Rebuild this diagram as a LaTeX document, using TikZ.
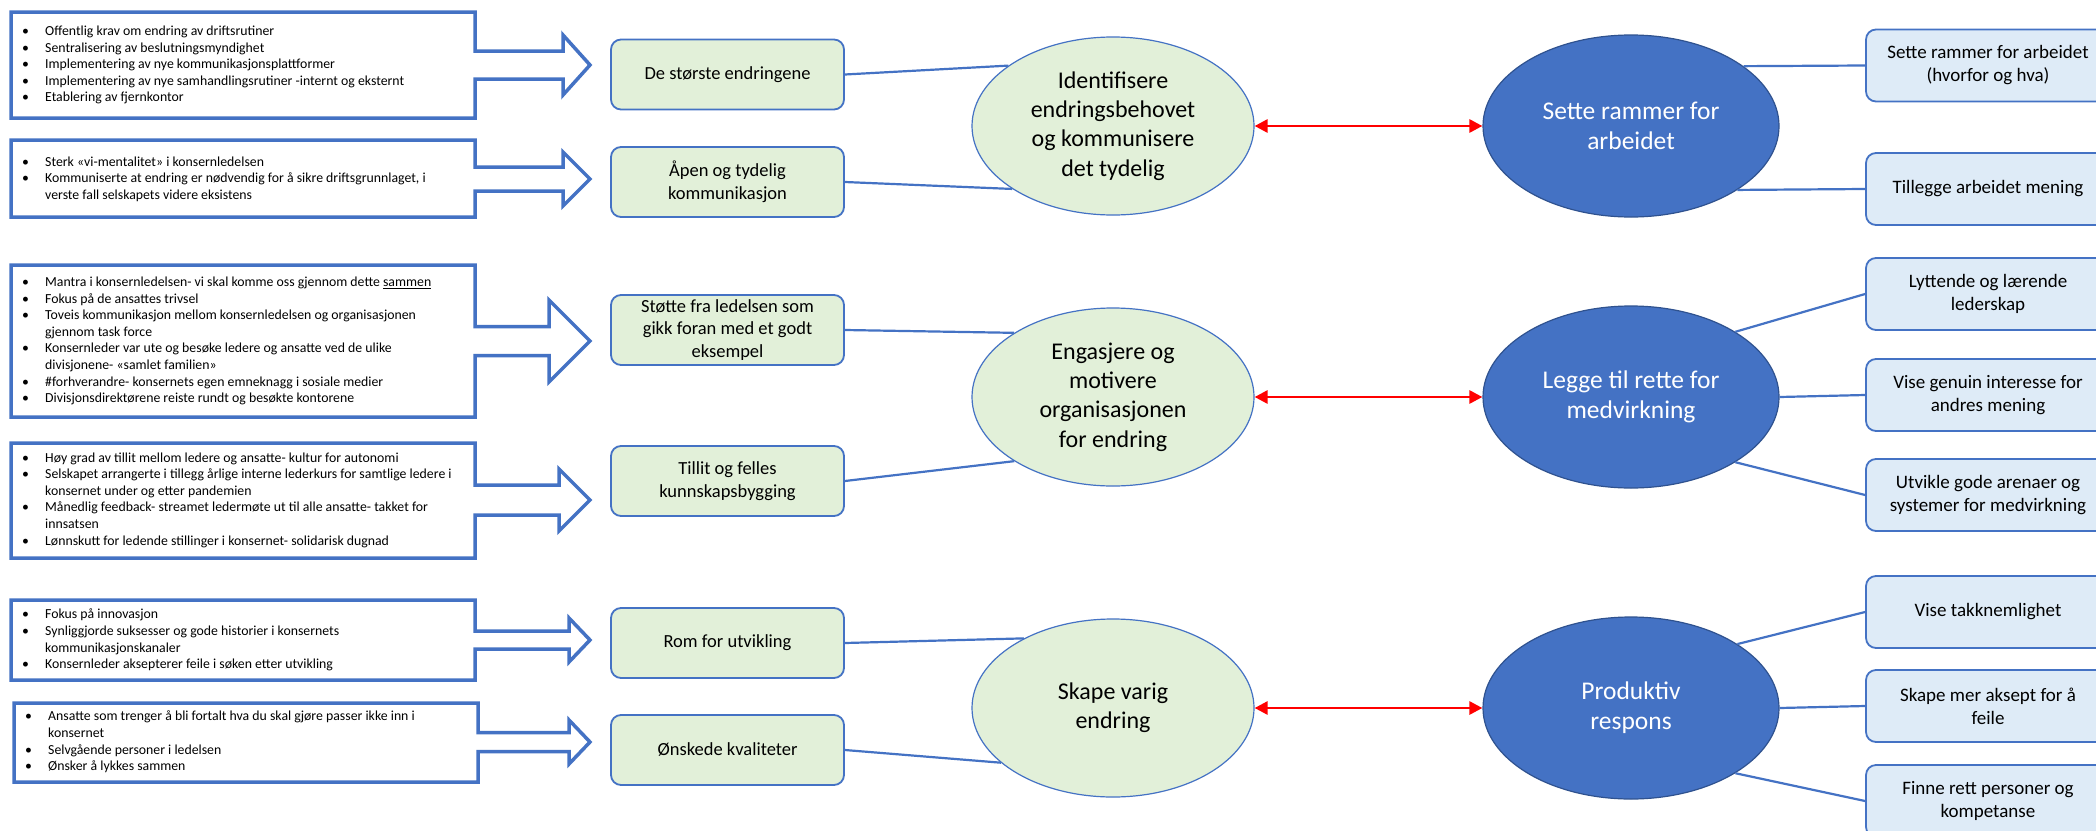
\documentclass[tikz,border=0pt]{standalone}
\usepackage{fontspec}
\setmainfont{Carlito}
\usetikzlibrary{arrows.meta,shapes.geometric}
\definecolor{ublue}{HTML}{4472C4}
\definecolor{dblue}{HTML}{2F528F}
\definecolor{lgreen}{HTML}{E2F0D9}
\definecolor{lblue}{HTML}{DEEBF7}
\newcommand\calloutbox[9]{%
 \draw[callout] (#1,#2) -- (#3,#2) -- (#3,{#5-#6}) -- (#8,{#5-#6}) -- (#8,{#5-#7}) -- (#9,#5) -- (#8,{#5+#7}) -- (#8,{#5+#6}) -- (#3,{#5+#6}) -- (#3,#4) -- (#1,#4) -- cycle;}
\newcommand\bi[1]{\makebox[23pt][l]{\textbullet}#1}
\newcommand\bc[1]{\hspace*{23pt}#1}
\begin{document}
\begin{tikzpicture}[x=1pt,y=-1pt,
 callout/.style={draw=ublue, line width=3.5pt, fill=white, line join=miter},
 bul/.style={anchor=west, inner sep=0pt, align=left, font=\fontsize{13.8}{16.6}\selectfont},
 gbox/.style={draw=ublue, line width=1.8pt, fill=lgreen, rounded corners=10pt, minimum width=233pt, minimum height=70pt, align=center, inner sep=2pt, font=\fontsize{18.5}{22.5}\selectfont},
 rbox/.style={gbox, fill=lblue, minimum width=244pt, minimum height=72pt, font=\fontsize{19}{23}\selectfont},
 gell/.style={ellipse, draw=ublue, line width=1.2pt, fill=lgreen, minimum width=282pt, minimum height=178pt, inner sep=0pt, align=center, font=\fontsize{24}{29.3}\selectfont},
 bell/.style={gell, draw=dblue, fill=ublue, text=white, minimum width=296pt, minimum height=182pt, font=\fontsize{25.5}{30}\selectfont},
 conn/.style={draw=ublue, line width=2.2pt},
 redarr/.style={draw=red, line width=2.8pt, {Triangle[length=13pt,width=13pt]}-{Triangle[length=13pt,width=13pt]}},
]
\useasboundingbox (0,0) rectangle (2096,830);
\fill[white] (0,0) rectangle (2096,830);
\clip (0,0) rectangle (2096,830);

% left callouts
\calloutbox{11}{12}{475}{118}{65}{14}{30}{563}{590}
\calloutbox{11}{140}{475}{217}{179}{12}{27}{563}{590}
\calloutbox{11}{265}{475}{417}{341}{14.5}{41}{549}{590}
\calloutbox{11}{443}{475}{558}{500}{15}{31}{559}{590}
\calloutbox{11}{600}{475}{680}{640}{9}{22}{569}{590}
\calloutbox{14}{703}{478}{782}{742}{9.5}{22}{569}{590}

\node[bul] (t1) at (22,65) {\bi{Offentlig krav om endring av driftsrutiner}\\%
\bi{Sentralisering av beslutningsmyndighet}\\%
\bi{Implementering av nye kommunikasjonsplattformer}\\%
\bi{Implementering av nye samhandlingsrutiner -internt og eksternt}\\%
\bi{Etablering av fjernkontor}};
\node[bul] (t2) at (22,179) {\bi{Sterk «vi-mentalitet» i konsernledelsen}\\%
\bi{Kommuniserte at endring er nødvendig for å sikre driftsgrunnlaget, i}\\%
\bc{verste fall selskapets videre eksistens}};
\node[bul] (t3) at (22,341) {\bi{Mantra i konsernledelsen- vi skal komme oss gjennom dette \underline{sammen}}\\%
\bi{Fokus på de ansattes trivsel}\\%
\bi{Toveis kommunikasjon mellom konsernledelsen og organisasjonen}\\%
\bc{gjennom task force}\\%
\bi{Konsernleder var ute og besøke ledere og ansatte ved de ulike}\\%
\bc{divisjonene- «samlet familien»}\\%
\bi{\#forhverandre- konsernets egen emneknagg i sosiale medier}\\%
\bi{Divisjonsdirektørene reiste rundt og besøkte kontorene}};
\node[bul] (t4) at (22,500) {\bi{Høy grad av tillit mellom ledere og ansatte- kultur for autonomi}\\%
\bi{Selskapet arrangerte i tillegg årlige interne lederkurs for samtlige ledere i}\\%
\bc{konsernet under og etter pandemien}\\%
\bi{Månedlig feedback- streamet ledermøte ut til alle ansatte- takket for}\\%
\bc{innsatsen}\\%
\bi{Lønnskutt for ledende stillinger i konsernet- solidarisk dugnad}};
\node[bul] (t5) at (22,640) {\bi{Fokus på innovasjon}\\%
\bi{Synliggjorde suksesser og gode historier i konsernets}\\%
\bc{kommunikasjonskanaler}\\%
\bi{Konsernleder aksepterer feile i søken etter utvikling}};
\node[bul] (t6) at (25,742) {\bi{Ansatte som trenger å bli fortalt hva du skal gjøre passer ikke inn i}\\%
\bc{konsernet}\\%
\bi{Selvgående personer i ledelsen}\\%
\bi{Ønsker å lykkes sammen}};

% green boxes
\node[gbox] (g1) at (727.5,74.5) {De største endringene};
\node[gbox] (g2) at (727.5,182) {Åpen og tydelig\\kommunikasjon};
\node[gbox] (g3) at (727.5,330) {Støtte fra ledelsen som\\gikk foran med et godt\\eksempel};
\node[gbox] (g4) at (727.5,481) {Tillit og felles\\kunnskapsbygging};
\node[gbox] (g5) at (727.5,643) {Rom for utvikling};
\node[gbox] (g6) at (727.5,750) {Ønskede kvaliteter};

% ellipses
\node[gell] (e1) at (1113,126) {Identifisere\\endringsbehovet\\og kommunisere\\det tydelig};
\node[gell] (e2) at (1113,397) {Engasjere og\\motivere\\organisasjonen\\for endring};
\node[gell] (e3) at (1113,708) {Skape varig\\endring};
\node[bell] (b1) at (1631,126) {Sette rammer for\\arbeidet};
\node[bell] (b2) at (1631,397) {Legge til rette for\\medvirkning};
\node[bell] (b3) at (1631,708) {Produktiv\\respons};

% right boxes
\node[rbox] (r1) at (1988,65.5) {Sette rammer for arbeidet\\(hvorfor og hva)};
\node[rbox] (r2) at (1988,189) {Tillegge arbeidet mening};
\node[rbox] (r3) at (1988,294) {Lyttende og lærende\\lederskap};
\node[rbox] (r4) at (1988,395) {Vise genuin interesse for\\andres mening};
\node[rbox] (r5) at (1988,495) {Utvikle gode arenaer og\\systemer for medvirkning};
\node[rbox] (r6) at (1988,612) {Vise takknemlighet};
\node[rbox] (r7) at (1988,706) {Skape mer aksept for å\\feile};
\node[rbox] (r8) at (1988,801) {Finne rett personer og\\kompetanse};

% connectors
\draw[conn] (g1.east) -- (e1.150);
\draw[conn] (g2.east) -- (e1.212);
\draw[conn] (g3.east) -- (e2.147);
\draw[conn] (g4.east) -- (e2.213);
\draw[conn] (g5.east) -- (e3.142);
\draw[conn] (g6.east) -- (e3.206);
\draw[conn] (b1.28) -- (r1.west);
\draw[conn] (b1.-31) -- (r2.west);
\draw[conn] (b2.32) -- (r3.west);
\draw[conn] (b2.east) -- (r4.west);
\draw[conn] (b2.-32) -- (r5.west);
\draw[conn] (b3.31) -- (r6.west);
\draw[conn] (b3.east) -- (r7.west);
\draw[conn] (b3.-32) -- (r8.west);

% red arrows
\draw[redarr] (e1.east) -- (b1.west);
\draw[redarr] (e2.east) -- (b2.west);
\draw[redarr] (e3.east) -- (b3.west);
\end{tikzpicture}
\end{document}
